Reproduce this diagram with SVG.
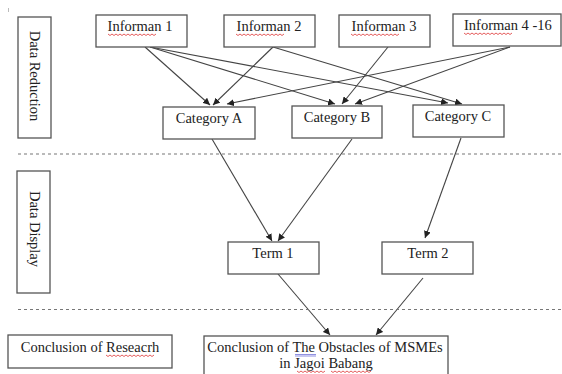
<svg xmlns="http://www.w3.org/2000/svg" width="562" height="374" viewBox="0 0 562 374">
<style>
.box{fill:#fff;stroke:#555;stroke-width:1.3}
.t{font-family:"Liberation Serif","Times New Roman",serif;font-size:14.5px;fill:#222}
.e{stroke:#444;stroke-width:1.1;fill:none;marker-end:url(#ah)}
.dash{stroke:#777;stroke-width:1.2;stroke-dasharray:3 3}
.sq{fill:none;stroke:#d33;stroke-width:0.8}
</style>
<defs>
<marker id="ah" viewBox="0 0 10 10" refX="10" refY="5" markerWidth="7" markerHeight="7" markerUnits="userSpaceOnUse" orient="auto">
<path d="M0,0 L10,5 L0,10 z" fill="#222"/>
</marker>
</defs>
<rect width="562" height="374" fill="#fff"/>
<line x1="8.5" y1="8" x2="8.5" y2="12" stroke="#bbb" stroke-width="1"/>
<g id="connectors">
<line class="e" x1="145" y1="47" x2="210" y2="105"/>
<line class="e" x1="150" y1="47" x2="335" y2="104"/>
<line class="e" x1="150" y1="47" x2="448" y2="103"/>
<line class="e" x1="273" y1="47" x2="213" y2="105"/>
<line class="e" x1="273" y1="47" x2="462" y2="104"/>
<line class="e" x1="388" y1="47" x2="342" y2="104"/>
<line class="e" x1="510" y1="47" x2="227" y2="104"/>
<line class="e" x1="510" y1="47" x2="355" y2="104"/>
<line class="e" x1="212" y1="139" x2="272" y2="241"/>
<line class="e" x1="352" y1="139" x2="278" y2="241"/>
<line class="e" x1="461" y1="138" x2="425" y2="238"/>
<line class="e" x1="278" y1="274" x2="330" y2="335"/>
<line class="e" x1="423" y1="278" x2="376" y2="335"/>
</g>
<line class="dash" x1="18" y1="154" x2="562" y2="154"/>
<line class="dash" x1="18" y1="309.5" x2="562" y2="309.5"/>
<g id="data-reduction">
<rect class="box" x="18" y="17" width="33" height="121"/>
<text class="t" transform="translate(30,76) rotate(90)" text-anchor="middle">Data Reduction</text>
</g>
<g id="data-display">
<rect class="box" x="17" y="171" width="33" height="122"/>
<text class="t" transform="translate(30,229) rotate(90)" text-anchor="middle">Data Display</text>
</g>
<g id="informan1">
<rect class="box" x="96" y="15" width="91" height="32"/>
<text class="t" x="140" y="31" text-anchor="middle">Informan 1</text>
<path class="sq" d="M108,34 l2,1.5 2,-1.5 2,1.5 2,-1.5 2,1.5 2,-1.5 2,1.5 2,-1.5 2,1.5 2,-1.5 2,1.5 2,-1.5 2,1.5 2,-1.5 2,1.5 2,-1.5 2,1.5 2,-1.5 2,1.5 2,-1.5 2,1.5 2,-1.5 2,1.5 2,-1.5"/>
</g>
<g id="informan2">
<rect class="box" x="224" y="15" width="91" height="32"/>
<text class="t" x="269" y="31" text-anchor="middle">Informan 2</text>
<path class="sq" d="M236,34 l2,1.5 2,-1.5 2,1.5 2,-1.5 2,1.5 2,-1.5 2,1.5 2,-1.5 2,1.5 2,-1.5 2,1.5 2,-1.5 2,1.5 2,-1.5 2,1.5 2,-1.5 2,1.5 2,-1.5 2,1.5 2,-1.5 2,1.5 2,-1.5 2,1.5 2,-1.5"/>
</g>
<g id="informan3">
<rect class="box" x="339" y="15" width="91" height="32"/>
<text class="t" x="384" y="31" text-anchor="middle">Informan 3</text>
<path class="sq" d="M351,34 l2,1.5 2,-1.5 2,1.5 2,-1.5 2,1.5 2,-1.5 2,1.5 2,-1.5 2,1.5 2,-1.5 2,1.5 2,-1.5 2,1.5 2,-1.5 2,1.5 2,-1.5 2,1.5 2,-1.5 2,1.5 2,-1.5 2,1.5 2,-1.5 2,1.5 2,-1.5"/>
</g>
<g id="informan4">
<rect class="box" x="453" y="14" width="108" height="32"/>
<text class="t" x="464" y="30">Informan 4 -16</text>
<path class="sq" d="M464,33 l2,1.5 2,-1.5 2,1.5 2,-1.5 2,1.5 2,-1.5 2,1.5 2,-1.5 2,1.5 2,-1.5 2,1.5 2,-1.5 2,1.5 2,-1.5 2,1.5 2,-1.5 2,1.5 2,-1.5 2,1.5 2,-1.5 2,1.5 2,-1.5 2,1.5 2,-1.5"/>
</g>
<g id="categoryA">
<rect class="box" x="163" y="107" width="92" height="32"/>
<text class="t" x="209" y="123" text-anchor="middle">Category A</text>
</g>
<g id="categoryB">
<rect class="box" x="292" y="106" width="90" height="32"/>
<text class="t" x="337" y="122" text-anchor="middle">Category B</text>
</g>
<g id="categoryC">
<rect class="box" x="413" y="105" width="91" height="32"/>
<text class="t" x="458" y="121" text-anchor="middle">Category C</text>
</g>
<g id="term1">
<rect class="box" x="228" y="242" width="91" height="32"/>
<text class="t" x="273" y="258" text-anchor="middle">Term 1</text>
</g>
<g id="term2">
<rect class="box" x="382" y="242" width="91" height="32"/>
<text class="t" x="428" y="258" text-anchor="middle">Term 2</text>
</g>
<g id="conclusion-research">
<rect class="box" x="8" y="335" width="164" height="33"/>
<text class="t" x="90" y="352" text-anchor="middle">Conclusion of Reseacrh</text>
<path class="sq" d="M106,355 l2,1.5 2,-1.5 2,1.5 2,-1.5 2,1.5 2,-1.5 2,1.5 2,-1.5 2,1.5 2,-1.5 2,1.5 2,-1.5 2,1.5 2,-1.5 2,1.5 2,-1.5 2,1.5 2,-1.5 2,1.5 2,-1.5 2,1.5 2,-1.5 2,1.5 2,-1.5"/>
</g>
<g id="conclusion-obstacles">
<rect class="box" x="204" y="336" width="244" height="50"/>
<text class="t" x="325" y="352" text-anchor="middle">Conclusion of The Obstacles of MSMEs</text>
<text class="t" x="326" y="368" text-anchor="middle">in Jagoi Babang</text>
<path d="M295,354.5 h21 M295,356 h21" stroke="#44c" stroke-width="0.6"/>
<path class="sq" d="M297,371 l2,1.5 2,-1.5 2,1.5 2,-1.5 2,1.5 2,-1.5 2,1.5 2,-1.5 2,1.5 2,-1.5 2,1.5 2,-1.5 2,1.5 2,-1.5 M331,371 l2,1.5 2,-1.5 2,1.5 2,-1.5 2,1.5 2,-1.5 2,1.5 2,-1.5 2,1.5 2,-1.5 2,1.5 2,-1.5 2,1.5 2,-1.5 2,1.5 2,-1.5 2,1.5 2,-1.5 2,1.5 2,-1.5"/>
</g>
</svg>
